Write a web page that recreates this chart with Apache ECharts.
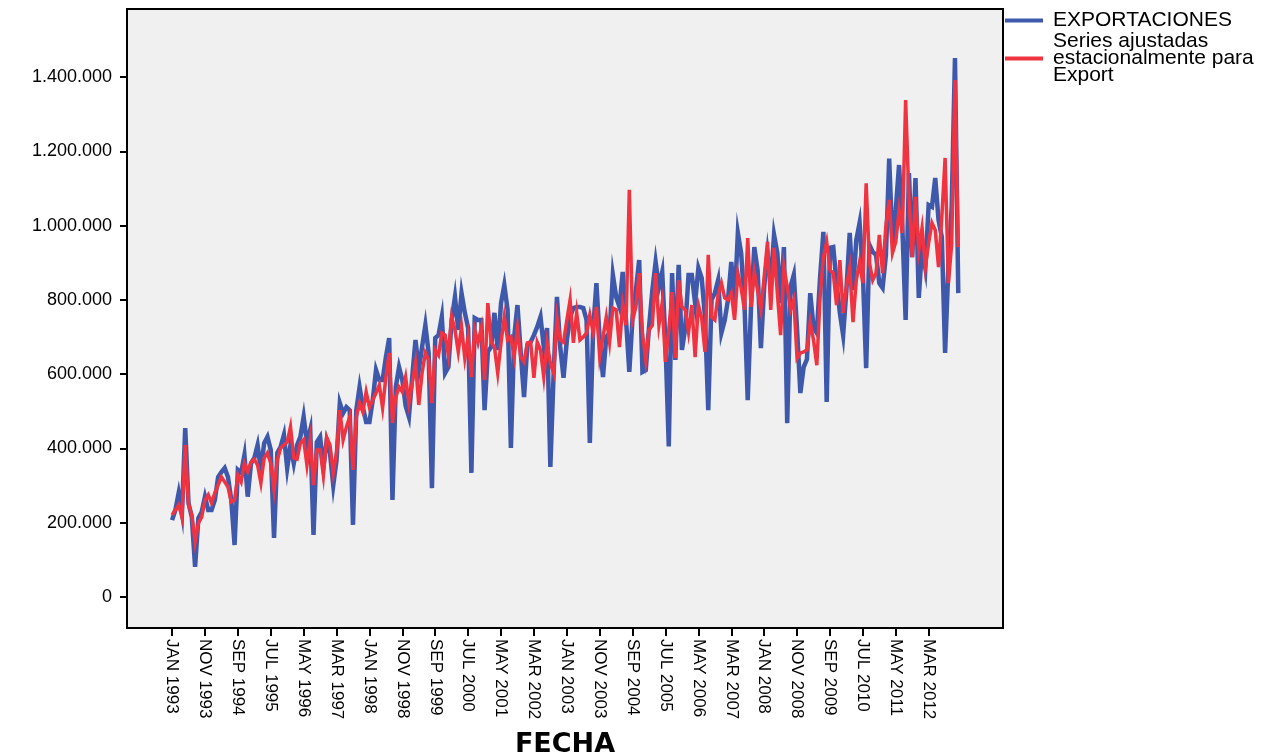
<!DOCTYPE html>
<html>
<head>
<meta charset="utf-8">
<script src="https://cdn.jsdelivr.net/npm/echarts@6/dist/echarts.min.js"></script>
<style>
html,body{margin:0;padding:0;background:#fff;}
#chart{width:1284px;height:755px;}
</style>
</head>
<body>
<div id="chart"></div>
<script>
// Monthly series, JAN 1993 .. DEC 2012 (values in thousands)
const startYear = 1993;
const monthNames = ['JAN','FEB','MAR','APR','MAY','JUN','JUL','AUG','SEP','OCT','NOV','DEC'];

const exportaciones = [
207,234,280,226,455,253,215,81,212,229,270,234,
234,261,323,336,347,323,261,140,342,334,382,270,
360,374,409,342,414,431,396,159,388,404,436,347,
409,360,409,431,485,414,450,167,417,431,350,420,
388,301,369,522,495,511,503,194,503,565,511,471,
471,530,611,584,584,646,697,261,565,619,584,515,
485,592,692,611,673,732,657,293,697,705,754,603,
619,746,808,719,818,765,724,334,751,746,746,503,
660,673,765,665,791,840,773,401,700,786,657,538,
678,686,705,727,754,673,724,350,603,808,673,590,
690,754,778,781,781,778,746,415,719,845,692,592,
700,711,867,808,781,875,746,606,754,826,907,606,
611,727,826,902,835,875,684,405,872,638,894,665,
724,867,867,791,886,859,754,503,800,818,853,711,
745,800,902,791,980,926,791,530,781,942,880,670,
835,926,845,975,926,791,942,468,835,867,719,549,
619,640,818,727,711,861,983,525,940,942,845,765,
705,826,980,826,961,1007,872,616,948,929,921,845,
832,920,1180,953,1042,1163,996,746,1141,915,1128,805,
942,886,1055,1050,1128,1015,969,657,888,1050,1451,818
];

const ajustadas = [
221,234,248,215,409,250,220,148,199,215,261,275,
253,280,301,323,310,296,256,261,328,310,360,338,
363,371,355,307,374,388,360,288,369,401,409,417,
458,374,371,414,423,355,423,301,396,396,328,430,
409,334,388,503,423,458,485,342,485,522,498,552,
511,530,549,571,509,592,657,468,538,565,552,592,
522,576,630,517,603,657,638,522,665,651,711,705,
651,754,719,660,727,643,700,592,719,684,724,584,
791,686,673,603,684,754,692,700,646,724,646,633,
684,686,590,686,665,592,684,630,603,751,692,686,
745,800,684,765,692,700,711,759,713,781,646,700,
754,686,778,773,673,786,732,1096,746,781,872,711,
638,719,732,872,732,791,633,719,821,643,853,781,
773,713,786,646,786,751,660,921,754,746,813,845,
805,800,818,746,872,832,773,966,781,875,826,773,
861,956,773,940,818,705,888,835,773,800,643,657,
660,665,740,692,624,808,915,956,880,872,786,907,
765,835,886,740,853,902,845,1114,899,853,872,975,
872,1000,1069,926,956,1042,980,1338,1077,915,1077,934,
993,888,953,1007,988,888,1023,1182,845,950,1392,942
];

const tickLabels = ['JAN 1993','NOV 1993','SEP 1994','JUL 1995','MAY 1996','MAR 1997','JAN 1998','NOV 1998','SEP 1999','JUL 2000','MAY 2001','MAR 2002','JAN 2003','NOV 2003','SEP 2004','JUL 2005','MAY 2006','MAR 2007','JAN 2008','NOV 2008','SEP 2009','JUL 2010','MAY 2011','MAR 2012'];
const yTickValues = [0,200000,400000,600000,800000,1000000,1200000,1400000];

function monthLabel(i){ return monthNames[i % 12] + ' ' + (startYear + Math.floor(i / 12)); }
const tickIndex = tickLabels.map(function(t){
  const p = t.split(' ');
  return (parseInt(p[1],10) - startYear) * 12 + monthNames.indexOf(p[0]);
});
function fmtThousands(v){
  return String(Math.round(v)).replace(/\B(?=(\d{3})+(?!\d))/g, '.');
}

const blueData = exportaciones.map(function(v,i){ return [i, v*1000]; });
const redData = ajustadas.map(function(v,i){ return [i, v*1000]; });

const chart = echarts.init(document.getElementById('chart'), null, {renderer:'canvas'});
chart.setOption({
  animation: false,
  backgroundColor: '#ffffff',
  textStyle: {fontFamily: 'Liberation Sans, Arial, sans-serif', color: '#000'},
  grid: {
    left: 127, top: 9, right: 281, bottom: 127,
    show: true, backgroundColor: '#f0f0f0', borderColor: '#000', borderWidth: 2,
    containLabel: false,
    outerBoundsMode: 'none'
  },
  legend: {
    orient: 'vertical',
    left: 1005, top: 10,
    padding: 0,
    itemWidth: 38, itemHeight: 4, itemGap: 0,
    icon: 'rect',
    textStyle: {fontFamily: 'Liberation Sans, Arial, sans-serif', fontSize: 21, lineHeight: 17, color: '#000', padding: [0,0,0,5]},
    data: [
      {name: 'EXPORTACIONES'},
      {name: 'Series ajustadas\nestacionalmente para\nExport'}
    ]
  },
  xAxis: {
    type: 'value',
    min: -13.7, max: 252.6,
    name: 'FECHA',
    nameLocation: 'middle',
    nameGap: 103,
    nameTextStyle: {fontFamily: 'DejaVu Sans, sans-serif', fontWeight: 'bold', fontSize: 27, color: '#000'},
    axisLine: {show: true, onZero: false, lineStyle: {color: '#000', width: 2}},
    axisTick: {show: true, length: 8, lineStyle: {color: '#000', width: 2}, customValues: tickIndex},
    axisLabel: {
      customValues: tickIndex,
      rotate: -90, margin: 11,
      fontSize: 17, color: '#000',
      fontFamily: 'Liberation Sans, Arial, sans-serif',
      formatter: function(v){ return monthLabel(Math.round(v)); }
    },
    splitLine: {show: false}
  },
  yAxis: {
    type: 'value',
    min: -83500, max: 1583000,
    axisLine: {show: true, onZero: false, lineStyle: {color: '#000', width: 2}},
    axisTick: {show: true, length: 7, lineStyle: {color: '#000', width: 2}, customValues: yTickValues},
    axisLabel: {
      customValues: yTickValues,
      margin: 15, fontSize: 18, color: '#000',
      fontFamily: 'Liberation Sans, Arial, sans-serif',
      formatter: function(v){ return fmtThousands(v); }
    },
    splitLine: {show: false}
  },
  series: [
    {
      name: 'EXPORTACIONES', type: 'line', data: blueData,
      showSymbol: false, symbol: 'none',
      lineStyle: {color: '#3e58ac', width: 4.5, join: 'miter'},
      itemStyle: {color: '#3e58ac'},
      z: 2
    },
    {
      name: 'Series ajustadas\nestacionalmente para\nExport', type: 'line', data: redData,
      showSymbol: false, symbol: 'none',
      lineStyle: {color: '#ef3340', width: 3.5, join: 'miter'},
      itemStyle: {color: '#ef3340'},
      z: 3
    }
  ]
});
</script>
</body>
</html>
